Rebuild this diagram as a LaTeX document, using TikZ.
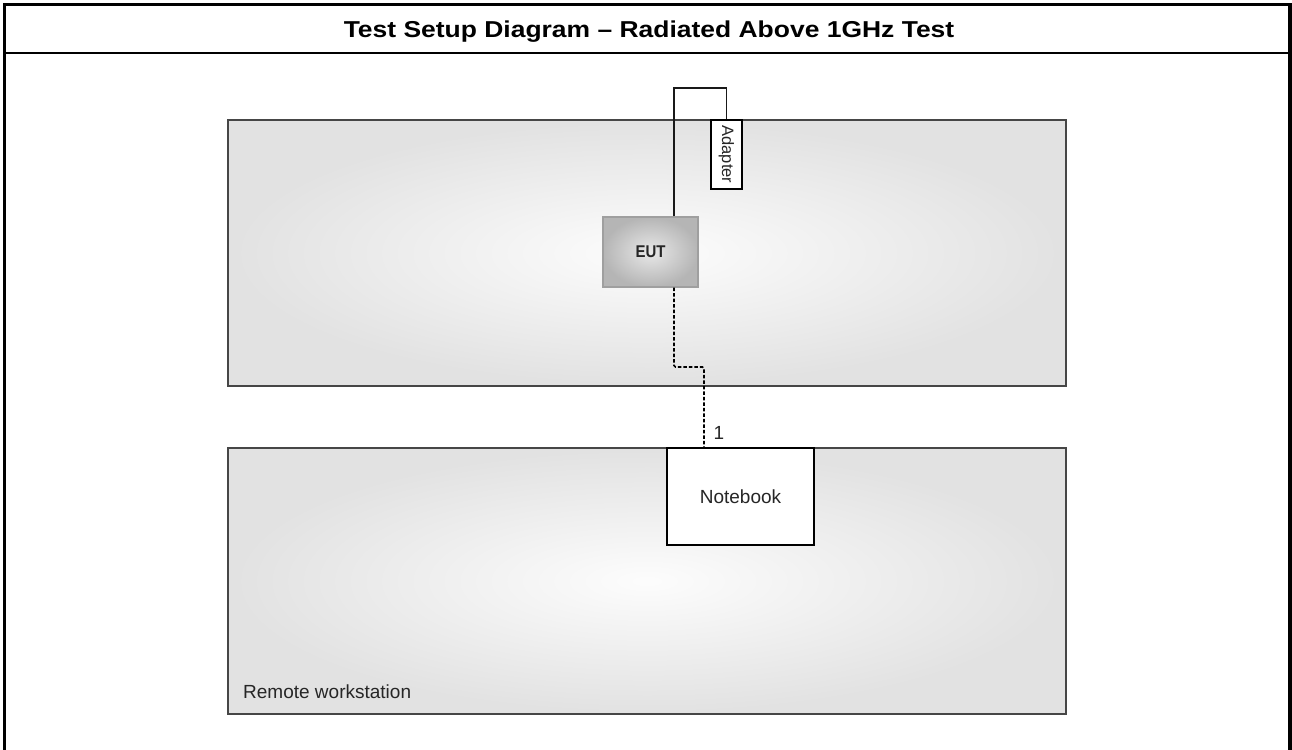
\documentclass[tikz,border=0pt]{standalone}
\usepackage{fontspec}
\setmainfont{Liberation Sans}
\begin{document}
\begin{tikzpicture}[x=1pt,y=-1pt,
  area/.style={draw=gray!55!black, line width=1.3pt, inner color=gray!2, outer color=gray!23, inner sep=0pt},
  eutbox/.style={draw=gray!75, line width=1.2pt, inner color=gray!18, outer color=gray!58, inner sep=0pt, minimum width=95pt, minimum height=70pt},
  whitebox/.style={draw=black, line width=1.3pt, fill=white, inner sep=0pt},
  cable/.style={draw=black!90, line width=1.4pt},
  txt/.style={font=\fontsize{19}{22}\selectfont, text=black!85, inner sep=0pt}
]
\useasboundingbox (0,0) rectangle (1292,749);
\fill[white] (0,0) rectangle (1292,749);
% frame
\draw[line width=3.5pt] (4.5,752) -- (4.5,4.5) -- (1290,4.5) -- (1290,752);
\draw[line width=2.6pt] (3,53) -- (1291,53);
\node[inner sep=0pt, anchor=base, font=\bfseries\fontsize{23}{26}\selectfont, xscale=1.15] (title) at (649,38) {Test Setup Diagram – Radiated Above 1GHz Test};
% areas
\node[area, minimum width=838pt, minimum height=266pt] (table) at (647,253) {};
\node[area, minimum width=838pt, minimum height=266pt] (remote) at (647,581) {};
\node[txt, anchor=base west] (remotelbl) at (243,698) {Remote workstation};
% devices
\node[eutbox, font=\bfseries\fontsize{17}{20}\selectfont, text=black!85] (eut) at (650.5,252) {\scalebox{0.88}[1]{EUT}};
\node[whitebox, minimum width=31pt, minimum height=69pt] (adapter) at (726.5,154.5) {};
\node[inner sep=0pt, rotate=-90, font=\fontsize{16.5}{19}\selectfont, text=black!85] (adaptertxt) at (adapter.center) {Adapter};
\node[whitebox, minimum width=147pt, minimum height=97pt, txt] (notebook) at (740.5,496.5) {Notebook};
% connectors
\coordinate (b1) at (674,88);
\draw[cable] (eut.north -| b1) -- (b1) -| (adapter.north);
\coordinate (d1) at (674,367);
\coordinate (d2) at (704,367);
\draw[draw=black, dash pattern=on 3.5pt off 2pt, line width=1.6pt, rounded corners=1.5pt] (eut.south -| d1) -- (d1) -- (d2) -- (notebook.north -| d2);
\node[txt, anchor=base] (lbl1) at (719,439) {1};
\end{tikzpicture}
\end{document}
